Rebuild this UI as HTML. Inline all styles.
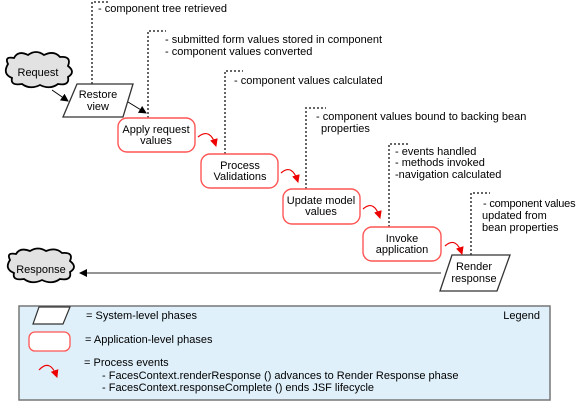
<!DOCTYPE html>
<html><head><style>
html,body{margin:0;padding:0;background:#fff;}
svg{display:block;font-family:"Liberation Sans",Arial,sans-serif;}
text{font-size:11px;fill:#000;}
</style></head><body>
<svg width="578" height="404" viewBox="0 0 578 404" xmlns="http://www.w3.org/2000/svg">
<defs>
<marker id="ab" markerWidth="8" markerHeight="8" refX="7" refY="4" orient="auto" markerUnits="userSpaceOnUse"><path d="M0,0 L8,4 L0,8 Z" fill="#000"/></marker>
<marker id="ar" markerWidth="8" markerHeight="8" refX="7" refY="4" orient="auto" markerUnits="userSpaceOnUse"><path d="M0,0 L8,4 L0,8 Z" fill="#e00"/></marker>
</defs>
<path d="M8,64 Q4,56 14,58 Q18,50 28,55 Q36,49 44,55 Q54,50 60,57 Q72,56 68,66 Q76,72 68,77 Q70,86 58,84 Q50,90 40,85 Q30,90 22,84 Q10,86 12,78 Q2,74 8,64 Z" fill="#e2e2e2" stroke="#000" stroke-width="1.8"/>
<text x="38" y="76" text-anchor="middle">Request</text>
<path d="M10,260 Q6,252 16,254 Q20,247 30,251 Q38,246 46,251 Q56,247 62,253 Q74,252 70,261 Q78,267 70,272 Q72,281 60,279 Q52,285 42,280 Q32,285 24,279 Q12,281 14,273 Q4,269 10,260 Z" fill="#e2e2e2" stroke="#000" stroke-width="1.8"/>
<text x="41" y="273" text-anchor="middle">Response</text>
<line x1="52" y1="90" x2="68" y2="101" stroke="#000" stroke-width="1" marker-end="url(#ab)"/>
<line x1="128" y1="102" x2="146" y2="113" stroke="#000" stroke-width="1" marker-end="url(#ab)"/>
<line x1="441" y1="273" x2="80" y2="273" stroke="#555" stroke-width="1.3" marker-end="url(#ab)"/>
<g stroke="#666" stroke-width="2" stroke-dasharray="2,2" fill="none">
<polyline points="92,84 92,2 110,2"/>
<polyline points="148,118 148,31 166,31"/>
<polyline points="225,154 225,71 243,71"/>
<polyline points="306,189 306,108 326,108"/>
<polyline points="389,227 389,144 408,144"/>
<polyline points="471,255 471,193 490,193"/>
</g>
<text x="98" y="12">- component tree retrieved</text>
<text x="165" y="43">- submitted form values stored in component</text>
<text x="165" y="55">- component values converted</text>
<text x="234" y="84">- component values calculated</text>
<text x="316" y="120">- component values bound to backing bean</text>
<text x="321" y="132">properties</text>
<text x="395" y="155">- events handled</text>
<text x="395" y="166">- methods invoked</text>
<text x="395" y="178">-navigation calculated</text>
<text x="483" y="207" letter-spacing="-0.2">- component values</text>
<text x="482" y="219">updated from</text>
<text x="482" y="231">bean properties</text>
<polygon points="77,84 133,84 123,117 63,117" fill="#fff" stroke="#333" stroke-width="1.3"/>
<text x="98" y="98" text-anchor="middle">Restore</text>
<text x="98" y="110" text-anchor="middle">view</text>
<polygon points="452,255 510,255 497,291 440,291" fill="#fff" stroke="#333" stroke-width="1.3"/>
<text x="474" y="270" text-anchor="middle">Render</text>
<text x="474" y="282" text-anchor="middle">response</text>
<g fill="#fff" stroke="#f55" stroke-width="1.4">
<rect x="118" y="118" width="77" height="34" rx="9"/>
<rect x="201" y="154" width="77" height="34" rx="9"/>
<rect x="283" y="189" width="77" height="35" rx="9"/>
<rect x="363" y="227" width="78" height="34" rx="9"/>
</g>
<text x="156" y="133" text-anchor="middle">Apply request</text>
<text x="156" y="144" text-anchor="middle">values</text>
<text x="240" y="169" text-anchor="middle">Process</text>
<text x="240" y="180" text-anchor="middle">Validations</text>
<text x="321" y="204" text-anchor="middle">Update model</text>
<text x="321" y="215" text-anchor="middle">values</text>
<text x="402" y="242" text-anchor="middle">Invoke</text>
<text x="402" y="253" text-anchor="middle">application</text>
<g stroke="#e00" stroke-width="1.2" fill="none">
<path d="M198,137 Q210,127 216,146" marker-end="url(#ar)"/>
<path d="M281,173 Q292,163 298,182" marker-end="url(#ar)"/>
<path d="M363,209 Q374,199 380,218" marker-end="url(#ar)"/>
<path d="M445,246 Q456,236 462,254" marker-end="url(#ar)"/>
</g>
<rect x="19" y="306" width="531" height="94" fill="#dff0fa" stroke="#777" stroke-width="1.5"/>
<polygon points="39,307 70,307 63,324 33,324" fill="#fff" stroke="#333" stroke-width="1.2"/>
<text x="86" y="319">= System-level phases</text>
<text x="540" y="319" text-anchor="end">Legend</text>
<rect x="29" y="332" width="41" height="19" rx="6" fill="#fff" stroke="#f55" stroke-width="1.3"/>
<text x="85" y="343">= Application-level phases</text>
<path d="M39,370 Q50,358 57,377" stroke="#e00" stroke-width="1.2" fill="none" marker-end="url(#ar)"/>
<text x="84" y="366">= Process events</text>
<text x="102" y="379">- FacesContext.renderResponse () advances to Render Response phase</text>
<text x="102" y="391">- FacesContext.responseComplete () ends JSF lifecycle</text>
</svg>
</body></html>
